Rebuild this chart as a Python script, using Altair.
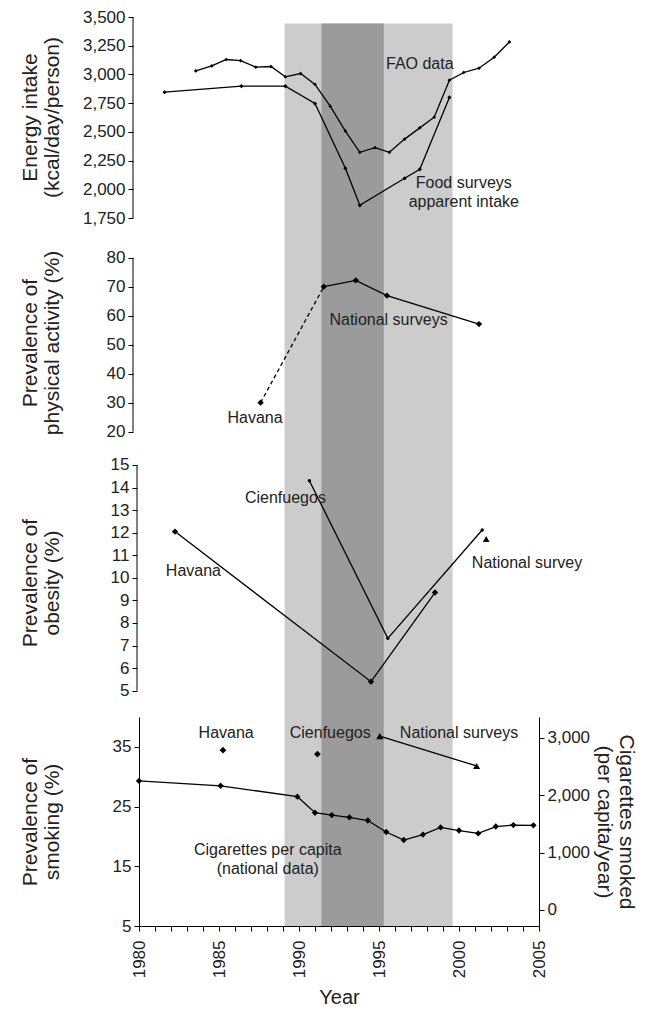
import altair as alt
import pandas as pd

FONT = "Liberation Sans"
TXT = "#222222"

# ---- shaded periods (years) ----
shade_start = [1989.1, 1991.4]
shade_end = [1999.6, 1995.3]
shade_tone = ["light", "dark"]

# ---- panel 1: energy intake ----
fao_year = [1983.55, 1984.55, 1985.45, 1986.35, 1987.3, 1988.25, 1989.15, 1990.1, 1991.0, 1991.95,
            1992.9, 1993.8, 1994.75, 1995.65, 1996.6, 1997.55, 1998.45, 1999.4, 2000.3, 2001.25,
            2002.2, 2003.15]
fao_kcal = [3031, 3074, 3130, 3121, 3063, 3069, 2979, 3008, 2913, 2724,
            2507, 2322, 2362, 2322, 2437, 2535, 2628, 2950, 3017, 3054,
            3150, 3283]
food_year = [1981.6, 1986.4, 1989.15, 1991.0, 1992.9, 1993.8, 1996.6, 1997.55, 1999.4]
food_kcal = [2846, 2898, 2898, 2747, 2183, 1861, 2096, 2174, 2800]

# ---- panel 2: physical activity ----
pa_havana_year = [1987.6]
pa_havana_val = [30]
pa_nat_year = [1991.55, 1993.55, 1995.5, 2001.25]
pa_nat_val = [70, 72.2, 66.9, 57.1]

# ---- panel 3: obesity ----
ob_havana_year = [1982.25, 1994.5, 1998.5]
ob_havana_val = [12.05, 5.4, 9.35]
ob_cienf_year = [1990.65, 1995.55, 2001.45]
ob_cienf_val = [14.3, 7.32, 12.12]
ob_nat_year = [2001.7]
ob_nat_val = [11.72]

# ---- panel 4: smoking ----
sm_pts_year = [1985.25, 1991.15]
sm_pts_val = [34.45, 33.8]
sm_nat_year = [1995.05, 2001.1]
sm_nat_val = [36.8, 31.8]
cig_year = [1980.0, 1985.1, 1989.9, 1991.0, 1992.05, 1993.15, 1994.3, 1995.45, 1996.55, 1997.75,
            1998.85, 2000.0, 2001.2, 2002.3, 2003.4, 2004.65]
cig_val = [2250, 2165, 1975, 1695, 1655, 1615, 1560, 1360, 1220, 1315,
           1440, 1385, 1335, 1455, 1480, 1475]

# ---- annotations ----
lab1 = {"text": ["FAO data", "Food surveys", "apparent intake"],
        "year": [1997.55, 2000.3, 2000.3], "val": [3095, 2052, 1892]}
lab2 = {"text": ["National surveys", "Havana"], "year": [1995.6, 1987.25], "val": [58.5, 24.6]}
lab3 = {"text": ["Cienfuegos", "Havana", "National survey"],
        "year": [1989.15, 1983.4, 2004.25], "val": [13.52, 10.32, 10.64]}
lab4 = {"text": ["Havana", "Cienfuegos", "National surveys", "Cigarettes per capita", "(national data)"],
        "year": [1985.45, 1991.95, 2000.0, 1988.05, 1988.05], "val": [37.4, 37.4, 37.4, 17.7, 14.6]}

W = 400
H1, H2, H3, H4 = 220, 211, 269, 209
XS = alt.Scale(domain=[1980, 2005], nice=False, zero=False)

Y1 = alt.Scale(domain=[1585, 3500], nice=False, zero=False)
Y2 = alt.Scale(domain=[14.38, 87.14], nice=False, zero=False)
Y3 = alt.Scale(domain=[3.835, 15.753], nice=False, zero=False)
Y4 = alt.Scale(domain=[5, 40], nice=False, zero=False)
Y4R = alt.Scale(domain=[-279, 3364], nice=False, zero=False)


def left_axis(title, values, fmt, offset, domain=False, titleY=None):
    kw = dict(title=title, values=values, format=fmt, offset=offset, domain=domain,
              domainColor="black", domainWidth=1, ticks=True, tickSize=5, tickColor="black",
              tickWidth=1, labelFont=FONT, labelFontSize=17, labelColor=TXT, labelPadding=3,
              titleFont=FONT, titleFontSize=21, titleFontWeight="normal", titleColor=TXT,
              titleLineHeight=22, titleX=-99 + offset, titleBaseline="bottom", grid=False)
    if titleY is not None:
        kw["titleY"] = titleY
    return alt.Axis(**kw)


shade_df = pd.DataFrame({"start": shade_start, "end": shade_end, "tone": shade_tone})


def shade(h, xaxis=None, top=0):
    return alt.Chart(shade_df).mark_rect().encode(
        x=alt.X("start:Q", scale=XS, axis=xaxis), x2="end",
        y=alt.value(top), y2=alt.value(h),
        color=alt.Color("tone:N", scale=alt.Scale(domain=["light", "dark"], range=["#cccccc", "#9b9b9b"]),
                        legend=None))


def axis_rule(lo, hi, ys, yaxis, off):
    return alt.Chart(pd.DataFrame({"lo": [lo], "hi": [hi]})).mark_rule(color="black", strokeWidth=1).encode(
        x=alt.value(-off), y=alt.Y("lo:Q", scale=ys, axis=yaxis), y2="hi")


def series(years, vals, ys, yaxis, xaxis=None, line=True, shape="diamond", size=40, dash=None):
    df = pd.DataFrame({"year": years, "val": vals})
    enc = dict(x=alt.X("year:Q", scale=XS, axis=xaxis), y=alt.Y("val:Q", scale=ys, axis=yaxis))
    layers = []
    if line:
        kw = dict(color="black", strokeWidth=1.3)
        if dash:
            kw["strokeDash"] = dash
        layers.append(alt.Chart(df).mark_line(**kw).encode(**enc))
    if shape:
        layers.append(alt.Chart(df).mark_point(shape=shape, filled=True, color="black", opacity=1,
                                               size=size).encode(**enc))
    return layers


def labels(d, ys, yaxis, xaxis=None):
    return alt.Chart(pd.DataFrame(d)).mark_text(font=FONT, fontSize=16, color=TXT, align="center",
                                                baseline="middle").encode(
        x=alt.X("year:Q", scale=XS, axis=xaxis), y=alt.Y("val:Q", scale=ys, axis=yaxis), text="text:N")


# Panel 1
ax1 = left_axis(["Energy intake", "(kcal/day/person)"], list(range(1750, 3501, 250)), ",.0f", 6, titleY=100)
p1 = alt.layer(
    shade(H1, top=6.6),
    axis_rule(1750, 3500, Y1, ax1, 6),
    *series(fao_year, fao_kcal, Y1, ax1, size=14),
    *series(food_year, food_kcal, Y1, ax1, size=18),
    labels(lab1, Y1, ax1),
).properties(width=W, height=H1)

# Panel 2
ax2 = left_axis(["Prevalence of", "physical activity (%)"], list(range(20, 81, 10)), "d", 6)
dash_years = [pa_havana_year[0], pa_nat_year[0]]
dash_vals = [pa_havana_val[0], pa_nat_val[0]]
p2 = alt.layer(
    shade(H2),
    axis_rule(20, 80, Y2, ax2, 6),
    *series(dash_years, dash_vals, Y2, ax2, shape=None, dash=[4, 3]),
    *series(pa_havana_year, pa_havana_val, Y2, ax2, line=False, size=40),
    *series(pa_nat_year, pa_nat_val, Y2, ax2, size=40),
    labels(lab2, Y2, ax2),
).properties(width=W, height=H2)

# Panel 3
ax3 = left_axis(["Prevalence of", "obesity (%)"], list(range(5, 16)), "d", 2)
p3 = alt.layer(
    shade(H3),
    axis_rule(5, 15, Y3, ax3, 2),
    *series(ob_havana_year, ob_havana_val, Y3, ax3, size=40),
    *series(ob_cienf_year, ob_cienf_val, Y3, ax3, shape="circle", size=12),
    *series(ob_nat_year, ob_nat_val, Y3, ax3, line=False, shape="triangle-up", size=45),
    labels(lab3, Y3, ax3),
).properties(width=W, height=H3)

# Panel 4
ax4 = left_axis(["Prevalence of", "smoking (%)"], [5, 15, 25, 35], "d", 0, domain=True)
xax = alt.Axis(title="Year", values=list(range(1980, 2006)),
               labelExpr="datum.value % 5 === 0 ? datum.value : ''", labelAngle=-90,
               labelFont=FONT, labelFontSize=17, labelColor=TXT, labelPadding=9,
               tickSize=5, tickColor="black", tickWidth=1, domainColor="black", domainWidth=1,
               titleFont=FONT, titleFontSize=20, titleFontWeight="normal", titleColor=TXT,
               titlePadding=10, grid=False, labelOverlap=False)
axr = alt.Axis(title=["Cigarettes smoked", "(per capita/year)"], orient="right", values=[0, 1000, 2000, 3000],
               format=",.0f", domain=True, domainColor="black", tickSize=5, tickColor="black",
               labelFont=FONT, labelFontSize=17, labelColor=TXT, labelPadding=3,
               titleFont=FONT, titleFontSize=21, titleFontWeight="normal", titleColor=TXT,
               titleLineHeight=22, titlePadding=4, grid=False)
left4 = alt.layer(
    shade(H4, xaxis=xax),
    *series(sm_pts_year, sm_pts_val, Y4, ax4, xaxis=xax, line=False, size=45),
    *series(sm_nat_year, sm_nat_val, Y4, ax4, xaxis=xax, shape="triangle-up", size=50),
    labels(lab4, Y4, ax4, xaxis=xax),
)
right4 = alt.layer(*series(cig_year, cig_val, Y4R, axr, xaxis=xax, size=40))
p4 = alt.layer(left4, right4).resolve_scale(y="independent").properties(width=W, height=H4)

chart = alt.vconcat(p1, p2, p3, p4, spacing=0).properties(
    padding={"left": 10, "top": 0, "right": 4, "bottom": 0}
).configure_view(stroke=None)

chart.save("out.html", embed_options={"renderer": "svg", "actions": False})
